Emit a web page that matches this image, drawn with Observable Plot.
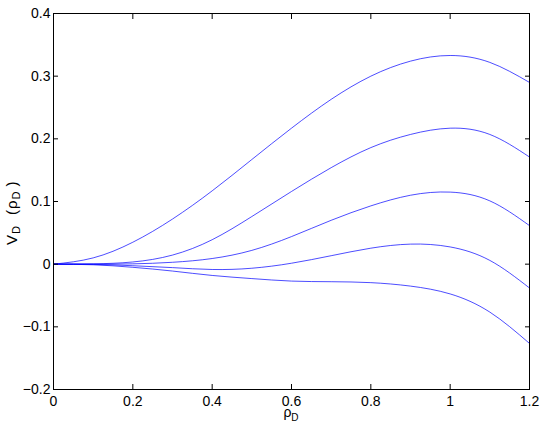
<!DOCTYPE html>
<html>
<head>
<meta charset="utf-8">
<script src="https://cdn.jsdelivr.net/npm/d3@7"></script>
<script src="https://cdn.jsdelivr.net/npm/@observablehq/plot@0.6"></script>
<style>
  html, body { margin: 0; padding: 0; background: white; }
</style>
</head>
<body>
<div id="chart"></div>
<script>
const rho = [0, 0.1, 0.2, 0.3, 0.4, 0.5, 0.6, 0.7, 0.8, 0.9, 1.0, 1.1, 1.2];
const v1 = [0, 0.010, 0.035, 0.072, 0.117, 0.167, 0.217, 0.263, 0.300, 0.324, 0.333, 0.322, 0.290];
const v2 = [0, 0.0005, 0.0035, 0.0145, 0.039, 0.076, 0.116, 0.154, 0.186, 0.207, 0.217, 0.207, 0.171];
const v3 = [0, 0.0000, 0.0005, 0.003, 0.009, 0.022, 0.044, 0.070, 0.093, 0.110, 0.115, 0.101, 0.0615];
const v4 = [0, -0.0003, -0.0025, -0.0055, -0.0085, -0.0065, 0.0015, 0.0135, 0.0255, 0.032, 0.0275, 0.006, -0.038];
const v5 = [0, -0.001, -0.005, -0.011, -0.018, -0.023, -0.027, -0.028, -0.0295, -0.035, -0.0475, -0.0765, -0.1265];
const seriesList = [v1, v2, v3, v4, v5];
const xTicks = [0, 0.2, 0.4, 0.6, 0.8, 1, 1.2];
const yTicks = [-0.2, -0.1, 0, 0.1, 0.2, 0.3, 0.4];

const data = seriesList.flatMap((vals, k) => rho.map((r, i) => ({rho: r, v: vals[i], s: k})));

const fmt = d => (d < 0 ? "\u2212" : "") + String(Math.abs(d));

const chart = Plot.plot({
  width: 545,
  height: 428,
  marginLeft: 53,
  marginRight: 16,
  marginTop: 13,
  marginBottom: 39,
  style: {fontFamily: "Liberation Sans, Arial, sans-serif", fontSize: "14px", background: "white", color: "black"},
  x: {domain: [0, 1.2]},
  y: {domain: [-0.2, 0.4]},
  marks: [
    Plot.line(data, {x: "rho", y: "v", z: "s", stroke: "#0000ff", strokeWidth: 0.7, curve: "natural"}),
    Plot.frame({stroke: "black", strokeWidth: 1}),
    Plot.axisX(xTicks, {anchor: "bottom", tickSize: 0, tickPadding: 7, tickFormat: fmt, label: null}),
    Plot.axisY(yTicks, {anchor: "left", tickSize: 0, tickPadding: 3, tickFormat: fmt, label: null}),
    Plot.axisX(xTicks, {anchor: "bottom", tickSize: 5, dy: -5, tickFormat: () => "", label: null}),
    Plot.axisX(xTicks, {anchor: "top", tickSize: 5, dy: 5, tickFormat: () => "", label: null}),
    Plot.axisY(yTicks, {anchor: "left", tickSize: 5, dx: 5, tickFormat: () => "", label: null}),
    Plot.axisY(yTicks, {anchor: "right", tickSize: 5, dx: -5, tickFormat: () => "", label: null})
  ]
});

const svg = d3.select(chart);
// x-axis label: rho_D
const xl = svg.append("text")
  .attr("x", 291).attr("y", 417)
  .attr("text-anchor", "middle")
  .attr("font-size", 14)
  .attr("fill", "black");
xl.append("tspan").text("\u03C1");
xl.append("tspan").attr("font-size", 10).attr("dy", 4).text("D");

// y-axis label: V_D (rho_D )
const yl = svg.append("text")
  .attr("transform", "translate(16.5,245) rotate(-90)")
  .attr("text-anchor", "start")
  .attr("font-size", 15)
  .attr("letter-spacing", 1)
  .attr("fill", "black");
yl.append("tspan").text("V");
yl.append("tspan").attr("font-size", 11).attr("dy", 3).text("D");
yl.append("tspan").attr("dx", 10).attr("dy", -3).text("(\u03C1");
yl.append("tspan").attr("font-size", 11).attr("dy", 3).text("D");
yl.append("tspan").attr("dx", 4).attr("dy", -3).text(")");

document.getElementById("chart").appendChild(chart);
</script>
</body>
</html>
